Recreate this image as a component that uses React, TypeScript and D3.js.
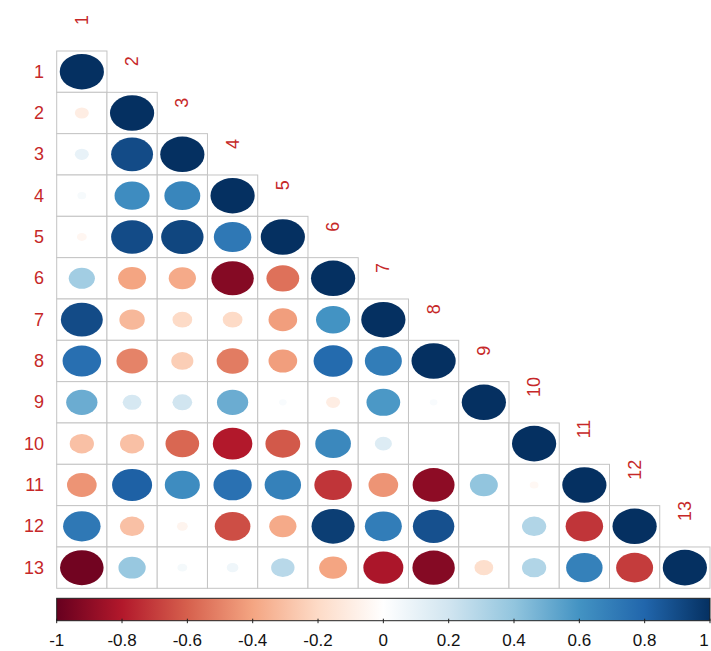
import React from 'react';
import * as d3 from 'd3';

// variable labels
const labels = ['1', '2', '3', '4', '5', '6', '7', '8', '9', '10', '11', '12', '13'];

// lower triangle of the correlation matrix, row by row (diagonal included)
const corrRows: number[][] = [
  [1],
  [-0.1, 1],
  [0.1, 0.9, 1],
  [0.04, 0.63, 0.66, 1],
  [-0.05, 0.9, 0.92, 0.72, 1],
  [0.35, -0.4, -0.38, -0.92, -0.55, 1],
  [0.9, -0.33, -0.2, -0.2, -0.42, 0.6, 1],
  [0.76, -0.5, -0.25, -0.52, -0.42, 0.78, 0.7, 1],
  [0.5, 0.18, 0.2, 0.5, 0.03, -0.1, 0.58, 0.03, 1],
  [-0.3, -0.3, -0.58, -0.8, -0.62, 0.65, 0.15, 0, 0, 1],
  [-0.45, 0.82, 0.63, 0.75, 0.68, -0.72, -0.45, -0.9, 0.4, -0.04, 1],
  [0.72, -0.3, -0.06, -0.65, -0.38, 0.95, 0.7, 0.88, 0, 0.3, -0.72, 1],
  [-0.97, 0.38, 0.05, 0.07, 0.28, -0.4, -0.82, -0.92, -0.18, 0.3, 0.68, -0.7, 1],
];

// colour legend ticks
const legendTicks = [-1, -0.8, -0.6, -0.4, -0.2, 0, 0.2, 0.4, 0.6, 0.8, 1];

// RdBu palette used by corrplot
const palette = ['#67001F', '#B2182B', '#D6604D', '#F4A582', '#FDDBC7', '#FFFFFF',
  '#D1E5F0', '#92C5DE', '#4393C3', '#2166AC', '#053061'];

const W = 711;
const H = 651;
const gridLeft = 56.7;
const gridRight = 710;
const gridTop = 51;
const gridBottom = 588.3;
const labelRed = '#c62828';

const App: React.FC = () => {
  const x = d3.scaleBand<string>().domain(labels).range([gridLeft, gridRight]);
  const y = d3.scaleBand<string>().domain(labels).range([gridTop, gridBottom]);
  const cw = x.bandwidth();
  const ch = y.bandwidth();

  const color = d3.scaleLinear<string>()
    .domain(d3.range(palette.length).map(i => -1 + (2 * i) / (palette.length - 1)))
    .range(palette)
    .interpolate(d3.interpolateRgb);

  const legendX = d3.scaleLinear().domain([-1, 1]).range([gridLeft, gridRight]);
  const legendTop = 598.3;
  const legendBottom = 620.7;

  const cells = corrRows.flatMap((row, i) =>
    row.map((v, j) => ({ r: labels[i], c: labels[j], v }))
  );

  return (
    <div style={{ position: 'absolute', left: 0, top: 0 }}>
      <svg width={W} height={H} style={{ display: 'block', background: '#fff' }}
        fontFamily="'Liberation Sans', Arial, sans-serif">
        <defs>
          <linearGradient id="rdbu" x1="0" x2="1" y1="0" y2="0">
            {palette.map((p, i) => (
              <stop key={i} offset={`${(i / (palette.length - 1)) * 100}%`} stopColor={p} />
            ))}
          </linearGradient>
        </defs>

        {/* cell borders */}
        {cells.map((d, k) => (
          <rect key={`b${k}`} x={x(d.c)} y={y(d.r)} width={cw} height={ch}
            fill="#fff" stroke="#c4c4c4" strokeWidth={1} />
        ))}

        {/* circles */}
        {cells.map((d, k) => {
          const s = Math.sqrt(Math.abs(d.v));
          if (s === 0) return null;
          return (
            <ellipse key={`e${k}`}
              cx={(x(d.c) || 0) + cw / 2}
              cy={(y(d.r) || 0) + ch / 2}
              rx={0.44 * cw * s}
              ry={0.43 * ch * s}
              fill={color(d.v)} />
          );
        })}

        {/* row labels */}
        {labels.map(l => (
          <text key={`rl${l}`} x={44} y={(y(l) || 0) + ch / 2} textAnchor="end"
            dominantBaseline="central" fontSize={18} fill={labelRed}>{l}</text>
        ))}

        {/* column labels, rotated above the diagonal */}
        {labels.map(l => (
          <text key={`cl${l}`} textAnchor="start" dominantBaseline="central"
            fontSize={18} fill={labelRed}
            transform={`translate(${(x(l) || 0) + cw / 2},${(y(l) || 0) - 26}) rotate(-90)`}>{l}</text>
        ))}

        {/* colour legend */}
        <rect x={legendX(-1)} y={legendTop} width={legendX(1) - legendX(-1)}
          height={legendBottom - legendTop} fill="url(#rdbu)" stroke="#222" strokeWidth={1} />
        {legendTicks.map(t => (
          <g key={`t${t}`}>
            <line x1={legendX(t)} x2={legendX(t)} y1={legendBottom - 2} y2={legendBottom + 2.5}
              stroke="#222" strokeWidth={1} />
            <text x={Math.min(legendX(t), 704)} y={640} textAnchor="middle" dominantBaseline="central"
              fontSize={17} fill="#111">{String(t)}</text>
          </g>
        ))}
      </svg>
    </div>
  );
};

export default App;
